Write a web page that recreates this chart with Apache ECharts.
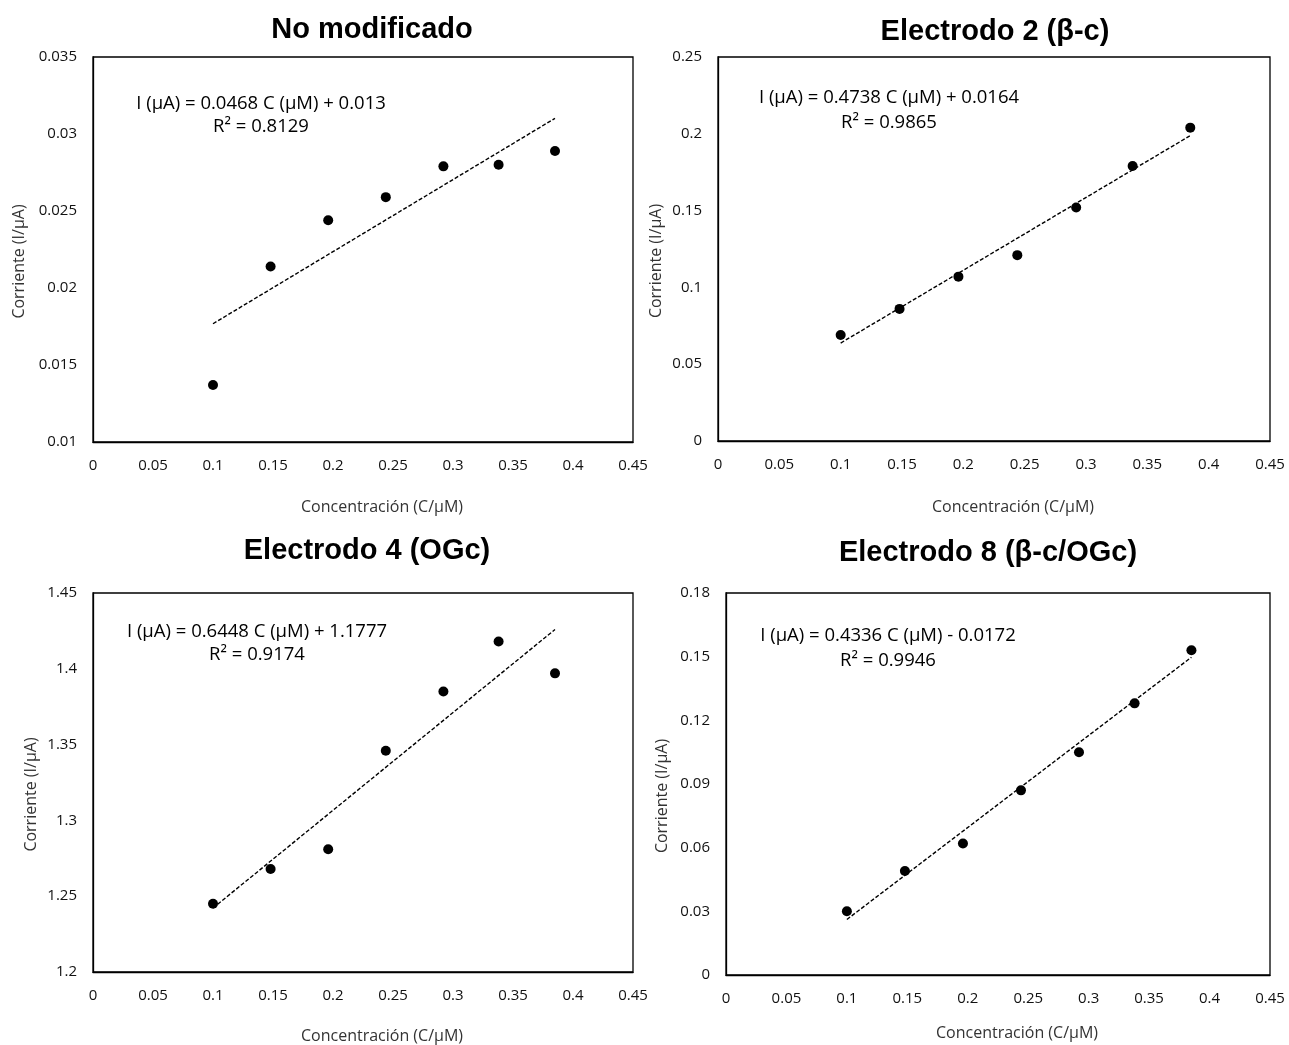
<!DOCTYPE html>
<html>
<head>
<meta charset="utf-8">
<script src="https://cdn.jsdelivr.net/npm/echarts@6/dist/echarts.min.js"></script>
<style>
  html, body { margin: 0; padding: 0; background: #fff; }
  #chart { width: 1289px; height: 1045px; }
</style>
</head>
<body>
<div id="chart"></div>
<script>
// calibration curves, 4 electrodes

const CONC = [0.1, 0.148, 0.196, 0.244, 0.292, 0.338, 0.385];

const I_NO_MOD = [0.0137, 0.0214, 0.0244, 0.0259, 0.0279, 0.0280, 0.0289];
const I_E2     = [0.069, 0.086, 0.107, 0.121, 0.152, 0.179, 0.204];
const I_E4     = [1.245, 1.268, 1.281, 1.346, 1.385, 1.418, 1.397];
const I_E8     = [0.030, 0.049, 0.062, 0.087, 0.105, 0.128, 0.153];

const TITLES = ['No modificado', 'Electrodo 2 (β-c)', 'Electrodo 4 (OGc)', 'Electrodo 8 (β-c/OGc)'];
const SLOPES = [0.0468, 0.4738, 0.6448, 0.4336];
const INTERCEPTS = [0.013, 0.0164, 1.1777, -0.0172];
const EQUATIONS = [
  'I (μA) = 0.0468 C (μM) + 0.013',
  'I (μA) = 0.4738 C (μM) + 0.0164',
  'I (μA) = 0.6448 C (μM) + 1.1777',
  'I (μA) = 0.4336 C (μM) - 0.0172',
];
const R2_TEXT = ['R² = 0.8129', 'R² = 0.9865', 'R² = 0.9174', 'R² = 0.9946'];

const Y_MIN  = [0.01, 0, 1.2, 0];
const Y_MAX  = [0.035, 0.25, 1.45, 0.18];
const Y_STEP = [0.005, 0.05, 0.05, 0.03];

const X_NAME = 'Concentración (C/μM)';
const Y_NAME = 'Corriente (I/μA)';

const SERIES = [I_NO_MOD, I_E2, I_E4, I_E8];

// layout (px)
const GRIDS = [
  { left: 93,  top: 57,  width: 540, height: 385 },
  { left: 718, top: 57,  width: 552, height: 384 },
  { left: 93,  top: 593, width: 540, height: 379 },
  { left: 726, top: 593, width: 544, height: 382 },
];
const TITLE_POS = [[372, 15], [995, 17], [367, 536], [988, 538]];
const EQ_POS = [[261, 104, 127], [889, 98, 123], [257, 632, 655], [888, 636, 661]];
const Y_NAME_GAP = [66, 54, 54, 56];
const X_NAME_GAP = [57, 58, 56, 50];

const FONT = 'Open Sans';
const TICK = { color: '#111', fontFamily: FONT, fontSize: 15 };
const NAME = { color: '#333', fontFamily: FONT, fontSize: 16 };

const c = echarts.init(document.getElementById('chart'), null, { renderer: 'canvas' });

const series = [];
SERIES.forEach((vals, i) => {
  series.push({
    type: 'scatter', xAxisIndex: i, yAxisIndex: i,
    data: CONC.map((x, k) => [x, vals[k]]),
    symbol: 'circle', symbolSize: 10,
    itemStyle: { color: '#000', opacity: 1 },
    z: 3,
  });
  const x0 = CONC[0], x1 = CONC[CONC.length - 1];
  series.push({
    type: 'line', xAxisIndex: i, yAxisIndex: i,
    data: [[x0, SLOPES[i] * x0 + INTERCEPTS[i]], [x1, SLOPES[i] * x1 + INTERCEPTS[i]]],
    showSymbol: false, symbol: 'none',
    lineStyle: { color: '#000', width: 1.4, type: [4, 2] },
    z: 2,
  });
});

const graphic = [];
EQ_POS.forEach(([x, y1, y2], i) => {
  const st = { fill: '#000', fontFamily: FONT, fontSize: 18.5, textAlign: 'center', textVerticalAlign: 'middle' };
  graphic.push({ type: 'text', x, y: y1, style: { ...st, text: EQUATIONS[i] } });
  graphic.push({ type: 'text', x, y: y2, style: { ...st, text: R2_TEXT[i] } });
});

c.setOption({
  animation: false,
  title: TITLES.map((t, i) => ({
    text: t, left: TITLE_POS[i][0], top: TITLE_POS[i][1], textAlign: 'center', padding: 0,
    textStyle: { fontFamily: 'Liberation Sans', fontWeight: 'bold', fontSize: 29, color: '#000' },
  })),
  grid: GRIDS.map(g => ({ ...g, show: true, borderColor: '#000', borderWidth: 1.3, backgroundColor: '#fff' })),
  xAxis: GRIDS.map((g, i) => ({
    type: 'value', gridIndex: i, min: 0, max: 0.45, interval: 0.05,
    name: X_NAME, nameLocation: 'middle', nameGap: X_NAME_GAP[i],
    nameTextStyle: { ...NAME, padding: [0, 0, 0, 38] },
    axisLine: { show: true, onZero: false, lineStyle: { color: '#000', width: 1.3 } },
    axisTick: { show: false },
    splitLine: { show: false },
    axisLabel: { ...TICK, margin: 16 },
  })),
  yAxis: GRIDS.map((g, i) => ({
    type: 'value', gridIndex: i, min: Y_MIN[i], max: Y_MAX[i], interval: Y_STEP[i],
    name: Y_NAME, nameLocation: 'middle', nameGap: Y_NAME_GAP[i],
    nameTextStyle: { ...NAME, padding: [0, 24, 0, 0] },
    axisLine: { show: true, onZero: false, lineStyle: { color: '#000', width: 1.3 } },
    axisTick: { show: false },
    splitLine: { show: false },
    axisLabel: { ...TICK, margin: 16 },
  })),
  graphic,
  series,
});
</script>
</body>
</html>
